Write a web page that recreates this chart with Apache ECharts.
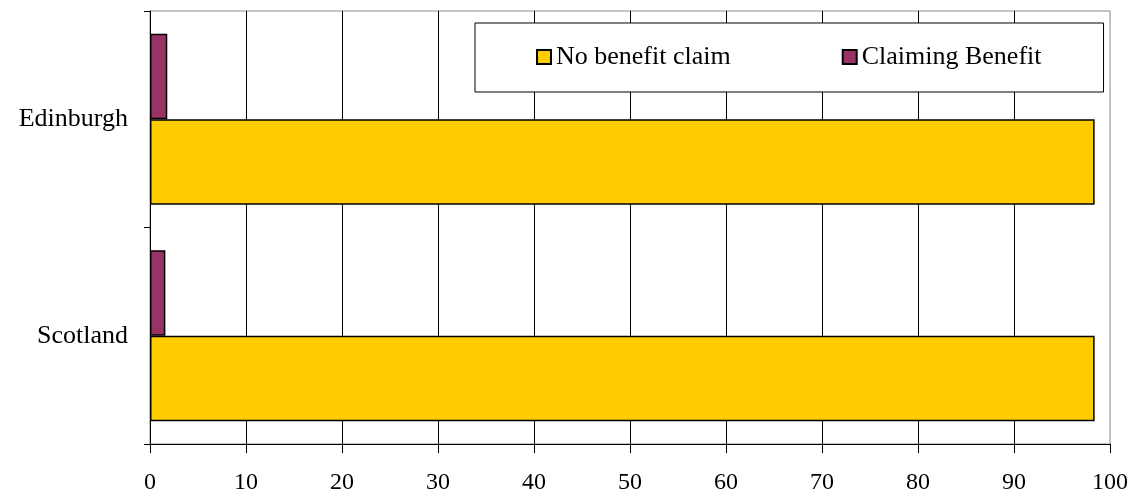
<!DOCTYPE html>
<html>
<head>
<meta charset="utf-8">
<script src="https://cdn.jsdelivr.net/npm/echarts@6/dist/echarts.min.js"></script>
<style>
  html, body { margin: 0; padding: 0; background: #fff; }
  #chart { width: 1136px; height: 495px; }
</style>
</head>
<body>
<div id="chart"></div>
<script>
// Areas shown on the category axis (bottom to top)
const areas = ['Scotland', 'Edinburgh'];
// Percentage of people in each group
const noBenefitClaim = [98.4, 98.4];
const claimingBenefit = [1.6, 1.8];
const seriesNames = ['No benefit claim', 'Claiming Benefit'];
const xTicks = { min: 0, max: 100, interval: 10 };

const font = '"Liberation Serif", "Times New Roman", serif';
const chart = echarts.init(document.getElementById('chart'));

const barCommon = { type: 'bar', barGap: '0%', barCategoryGap: '21%' };

chart.setOption({
  animation: false,
  backgroundColor: '#ffffff',
  textStyle: { fontFamily: font },
  grid: {
    left: 150, right: 26, top: 11, bottom: 51,
    show: true, borderColor: '#888888', borderWidth: 1,
    backgroundColor: 'transparent'
  },
  legend: {
    data: seriesNames,
    left: 475, top: 23,
    padding: [21, 62, 22, 61],
    itemGap: 111,
    itemWidth: 14, itemHeight: 14,
    icon: 'rect',
    borderColor: '#000', borderWidth: 1,
    backgroundColor: '#fff',
    textStyle: { fontFamily: font, fontSize: 26, color: '#000' }
  },
  xAxis: {
    type: 'value',
    min: xTicks.min, max: xTicks.max, interval: xTicks.interval,
    axisLine: { show: true, lineStyle: { color: '#000', width: 1 } },
    axisTick: { show: true, length: 9, lineStyle: { color: '#000' } },
    axisLabel: { color: '#000', fontFamily: font, fontSize: 24, margin: 27 },
    splitLine: { show: true, showMaxLine: false, lineStyle: { color: '#000', width: 1 } }
  },
  yAxis: {
    type: 'category',
    data: areas,
    axisLine: { show: true, lineStyle: { color: '#000', width: 1 } },
    axisTick: { show: true, length: 6, lineStyle: { color: '#000' } },
    axisLabel: { color: '#000', fontFamily: font, fontSize: 26, margin: 22 },
    splitLine: { show: false }
  },
  // Claiming Benefit listed first so it sits above the yellow bar in each band
  series: [
    Object.assign({}, barCommon, {
      name: seriesNames[1],
      data: claimingBenefit,
      itemStyle: { color: '#993366', borderColor: '#000', borderWidth: 1.5 }
    }),
    Object.assign({}, barCommon, {
      name: seriesNames[0],
      data: noBenefitClaim,
      itemStyle: { color: '#FFCC00', borderColor: '#000', borderWidth: 1.5 }
    })
  ]
});
</script>
</body>
</html>
